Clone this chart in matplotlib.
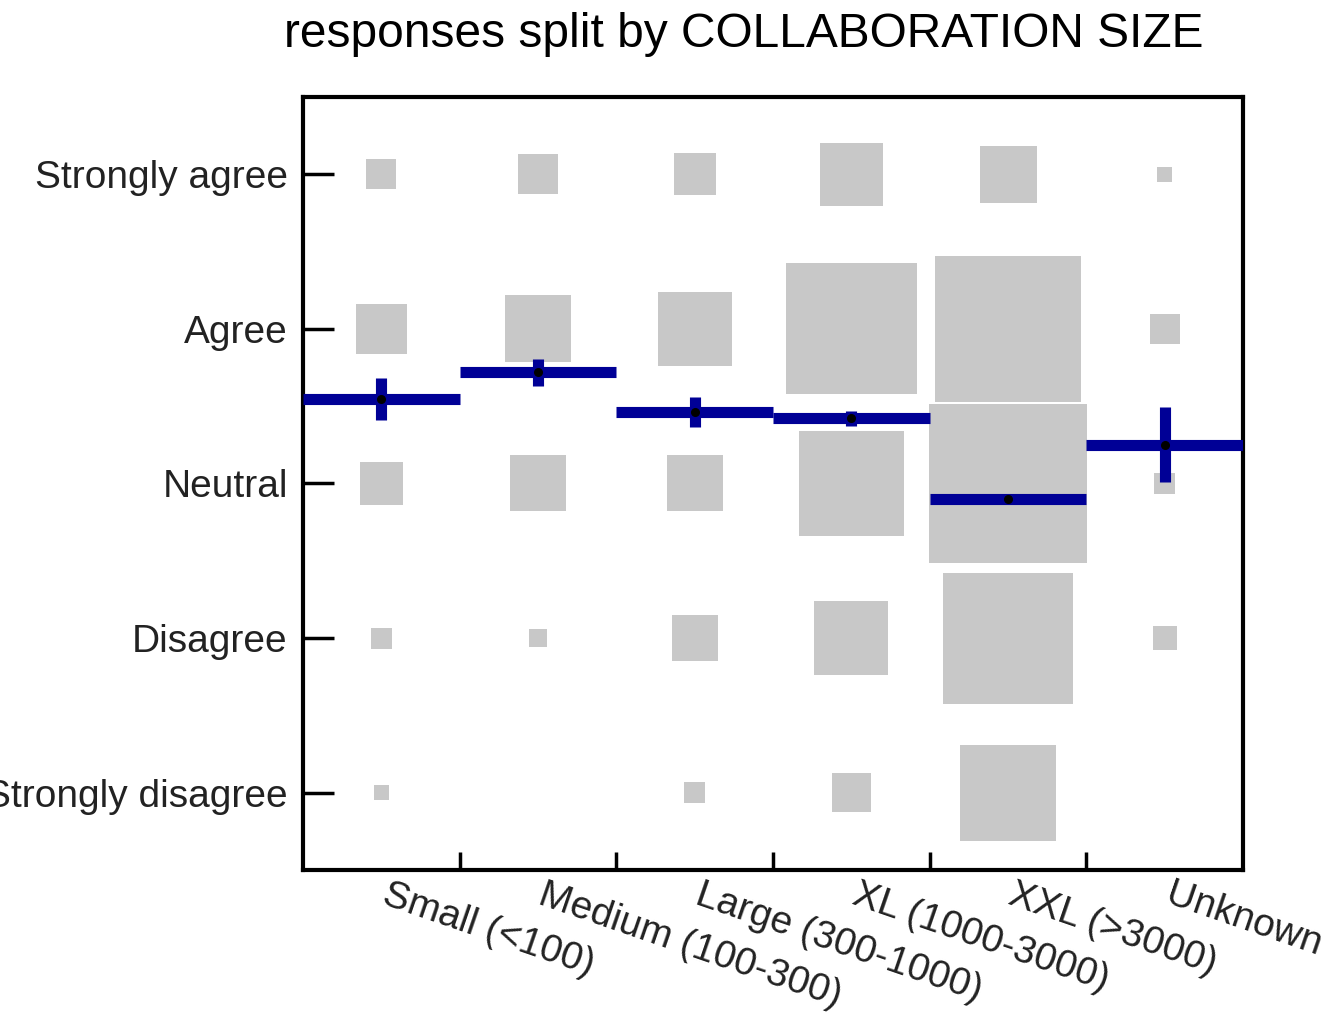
import numpy as np
import matplotlib
matplotlib.use("Agg")
import matplotlib.pyplot as plt
import matplotlib.transforms as mtransforms

plt.rcParams['font.family'] = ['Liberation Sans', 'DejaVu Sans']

# collaboration size groups and answer scale
groups = ['Small (<100)', 'Medium (100-300)', 'Large (300-1000)',
          'XL (1000-3000)', 'XXL (>3000)', 'Unknown']
answers = ['Strongly disagree', 'Disagree', 'Neutral', 'Agree', 'Strongly agree']
answer_values = [1, 2, 3, 4, 5]

# number of responses per answer (rows: strongly disagree .. strongly agree)
counts_sd = [2, 0, 4, 14, 82, 0]
counts_d = [4, 3, 19, 49, 153, 5]
counts_n = [16, 28, 28, 98, 225, 4]
counts_a = [23, 40, 49, 153, 192, 8]
counts_sa = [8, 14, 16, 35, 29, 2]

# mean answer per group and its standard error
means = [3.546, 3.718, 3.460, 3.421, 2.901, 3.250]
sems = [0.135, 0.087, 0.097, 0.050, 0.030, 0.242]

GREY = '#c8c8c8'
BLUE = '#000096'
AREA_PER_RESPONSE = 58.0  # marker area (pt^2) per response

fig = plt.figure(figsize=(13.32, 10.24), dpi=100)
ax = fig.add_axes([0.2275, 0.1504, 0.7057, 0.7549])

xs = np.arange(len(groups)) + 0.5
all_counts = [counts_sd, counts_d, counts_n, counts_a, counts_sa]

# grey squares, area proportional to the number of responses
for level, row in zip(answer_values, all_counts):
    ax.scatter(xs, [level] * len(xs), s=np.array(row) * AREA_PER_RESPONSE,
               marker='s', color=GREY, linewidths=0, zorder=1)

# mean line across each column plus standard error bar
m = np.array(means)
e = np.array(sems)
ax.hlines(m, xs - 0.5, xs + 0.5, color=BLUE, lw=8, zorder=3)
ax.vlines(xs, m - e, m + e, color=BLUE, lw=8, zorder=4)
ax.plot(xs, m, 'o', color='black', ms=5.5, zorder=5)

ax.set_xlim(0, len(groups))
ax.set_ylim(0.5, 5.5)

ax.set_yticks(answer_values)
ax.set_yticklabels(answers)
ax.tick_params(axis='y', direction='in', length=22, width=2.5, pad=11,
               labelsize=28, labelcolor='#222222')

# boundary ticks between groups, labels at the group centres
ax.set_xticks(np.arange(1, len(groups)))
ax.tick_params(axis='x', which='major', direction='in', length=13, width=2.5,
               labelbottom=False)
ax.set_xticks(xs, groups, minor=True, rotation=-19, ha='left',
              rotation_mode='anchor')
ax.tick_params(axis='x', which='minor', length=0, pad=5, labelsize=28,
               labelcolor='#222222')
shift = mtransforms.ScaledTranslation(8 / 100, 0, fig.dpi_scale_trans)
for lab in ax.get_xticklabels(minor=True):
    lab.set_transform(lab.get_transform() + shift)

for sp in ax.spines.values():
    sp.set_linewidth(3)

fig.text(0.5586, 1 - 47 / 1024, 'responses split by COLLABORATION SIZE',
         ha='center', va='baseline', fontsize=34.5)

fig.savefig('out.png', dpi=100)
